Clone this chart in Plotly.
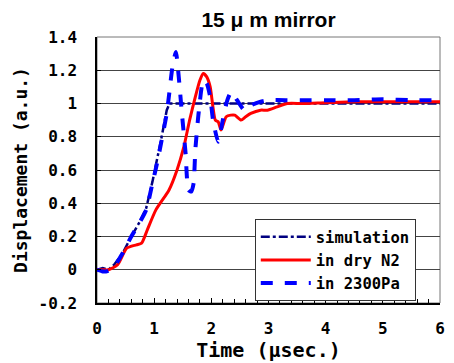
import plotly.graph_objects as go

# ---- data ----
sim_t = [0.0, 0.1, 0.2, 0.3, 0.45, 0.6, 0.75, 0.86, 0.97, 1.05, 1.12, 1.22, 1.27, 1.5, 2.0, 3.0, 4.0, 5.0, 6.0]
sim_v = [0.0, 0.01, 0.0, 0.03, 0.10, 0.20, 0.29, 0.37, 0.53, 0.66, 0.78, 0.96, 1.00, 1.00, 1.00, 1.00, 1.00, 1.00, 1.00]

n2_t = [0.0, 0.1, 0.2, 0.36, 0.52, 0.69, 0.78, 0.88, 1.03, 1.26, 1.4, 1.52, 1.62, 1.72, 1.8, 1.86, 1.92, 1.98, 2.07, 2.12, 2.17, 2.26, 2.34, 2.41, 2.52, 2.6, 2.69, 2.86, 2.98, 3.15, 3.33, 3.6, 4.0, 4.5, 5.0, 5.5, 6.0]
n2_v = [0.0, 0.0, 0.0, 0.03, 0.13, 0.15, 0.16, 0.24, 0.36, 0.48, 0.60, 0.74, 0.90, 1.04, 1.14, 1.18, 1.16, 1.10, 0.90, 0.89, 0.84, 0.92, 0.93, 0.93, 0.90, 0.92, 0.94, 0.96, 0.96, 0.98, 1.00, 1.00, 1.005, 1.01, 1.01, 1.01, 1.01]

pa_t = [0.0, 0.1, 0.17, 0.28, 0.45, 0.6, 0.74, 0.86, 0.97, 1.05, 1.12, 1.22, 1.26, 1.32, 1.38, 1.43, 1.48, 1.55, 1.6, 1.65, 1.69, 1.72, 1.78, 1.86, 1.92, 1.98, 2.03, 2.12, 2.2, 2.28, 2.35, 2.45, 2.58, 2.7, 2.85, 3.0, 3.3, 3.6, 4.0, 4.5, 5.0, 5.5, 6.0]
pa_v = [0.0, -0.01, -0.01, 0.01, 0.10, 0.20, 0.28, 0.36, 0.52, 0.64, 0.76, 0.94, 1.05, 1.22, 1.31, 1.16, 0.96, 0.70, 0.48, 0.47, 0.52, 0.72, 0.95, 1.14, 1.12, 1.04, 0.90, 0.77, 0.90, 1.02, 1.07, 1.02, 0.96, 0.99, 1.01, 1.02, 1.02, 1.02, 1.02, 1.02, 1.025, 1.02, 1.02]

x_ticks = [0, 1, 2, 3, 4, 5, 6]
y_ticks = [-0.2, 0, 0.2, 0.4, 0.6, 0.8, 1, 1.2, 1.4]
y_tick_text = ["-0.2", "0", "0.2", "0.4", "0.6", "0.8", "1", "1.2", "1.4"]

MONO = "DejaVu Sans Mono"

fig = go.Figure()
fig.add_trace(go.Scatter(x=sim_t, y=sim_v, mode="lines", name="simulation",
                         line=dict(color="#000080", width=2.5, dash="dashdot")))
fig.add_trace(go.Scatter(x=n2_t, y=n2_v, mode="lines", name="in dry N2",
                         line=dict(color="#ff0000", width=3, shape="spline", smoothing=0.6)))
fig.add_trace(go.Scatter(x=pa_t, y=pa_v, mode="lines", name="in 2300Pa",
                         line=dict(color="#0000ff", width=4, dash="dash", shape="spline", smoothing=0.6)))

fig.update_layout(
    width=454, height=363,
    margin=dict(l=97, r=9, t=37, b=60),
    paper_bgcolor="white", plot_bgcolor="white",
    title=dict(text="15 μ m mirror", x=0.5, xref="paper", y=0.945, yanchor="middle",
               font=dict(family="Liberation Sans", size=21, color="black", weight="bold")),
    showlegend=True,
    legend=dict(x=0.46, y=0.315, xanchor="left", yanchor="top",
                bgcolor="white", bordercolor="#333", borderwidth=1,
                font=dict(family=MONO, size=15.5, color="black", weight="bold"),
                tracegroupgap=0, itemwidth=50),
)
fig.update_xaxes(
    range=[0, 6], tickvals=x_ticks, ticks="inside", ticklen=5, tickcolor="black",
    minor=dict(dtick=0.2, ticks="inside", ticklen=4, tickcolor="black"),
    showline=True, linecolor="black", linewidth=1.5, mirror=False,
    showgrid=False, zeroline=False, ticklabelstandoff=10,
    tickfont=dict(family=MONO, size=16, color="black", weight="bold"),
    title=dict(text="Time (μsec.)", standoff=0,
               font=dict(family=MONO, size=20, color="black", weight="bold")),
)
fig.update_yaxes(
    range=[-0.2, 1.4], tickvals=y_ticks, ticktext=y_tick_text,
    ticks="inside", ticklen=4, tickcolor="black",
    showline=True, linecolor="black", linewidth=1.5,
    showgrid=True, gridcolor="#444", gridwidth=1, zeroline=False,
    ticklabelstandoff=15,
    tickfont=dict(family=MONO, size=16, color="black", weight="bold"),
    title=dict(text="Displacement (a.u.)", standoff=6,
               font=dict(family=MONO, size=18, color="black", weight="bold")),
)
# gray frame on top and right
fig.add_shape(type="rect", xref="paper", yref="paper", x0=0, y0=0, x1=1, y1=1,
              line=dict(color="#777", width=1), layer="below")

fig.write_html("out.html")
